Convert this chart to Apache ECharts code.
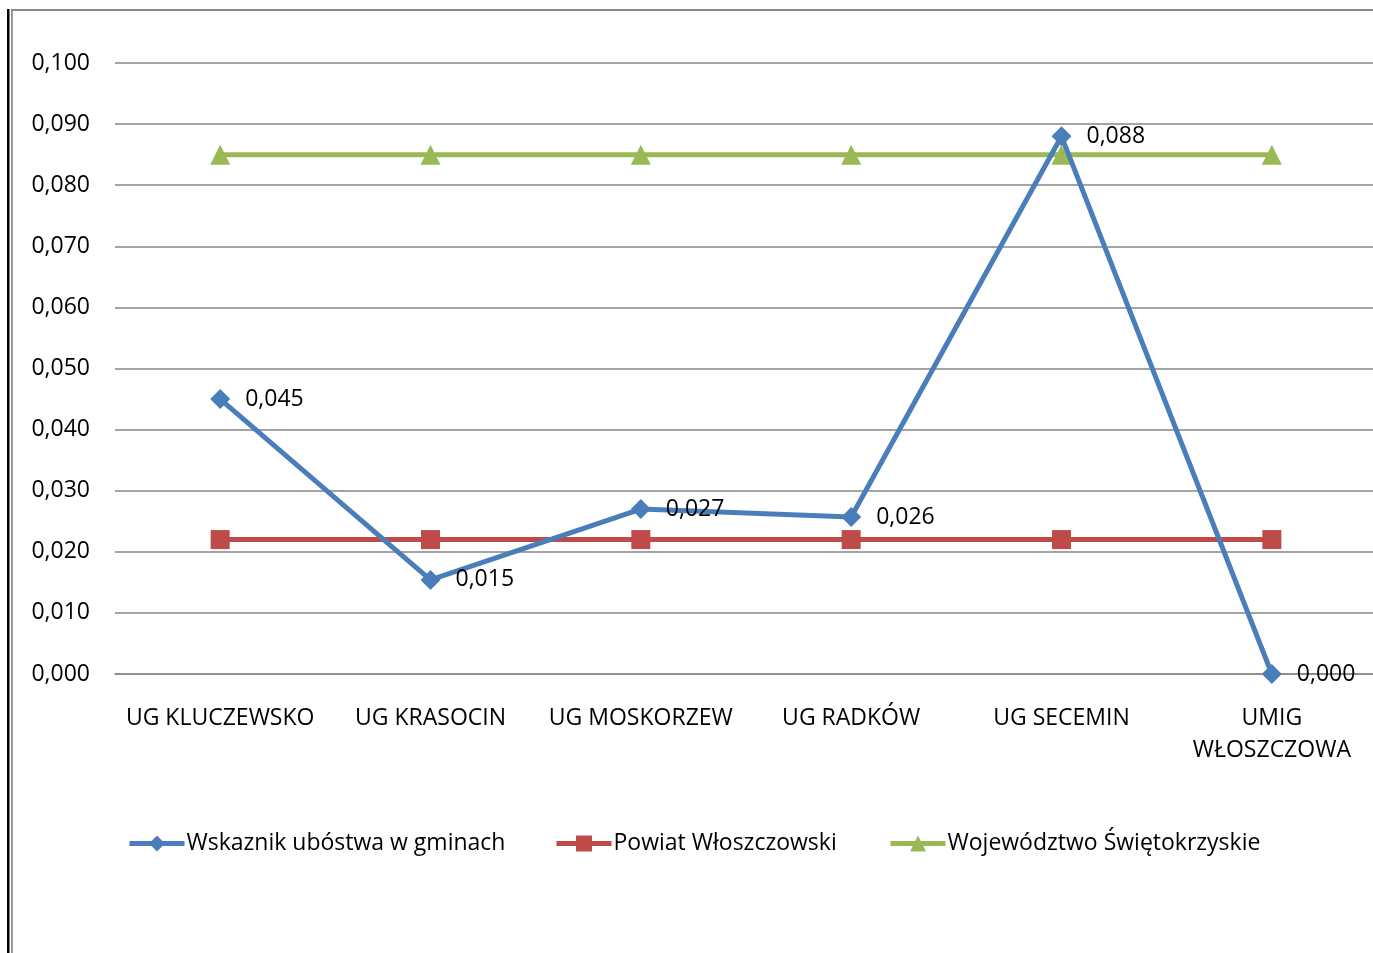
<!DOCTYPE html>
<html>
<head>
<meta charset="utf-8">
<script src="https://cdn.jsdelivr.net/npm/echarts@6/dist/echarts.min.js"></script>
<style>
  html, body { margin: 0; padding: 0; background: #fff; }
  #chart { width: 1373px; height: 953px; }
</style>
</head>
<body>
<div id="chart"></div>
<script>
// data
const categories = ['UG KLUCZEWSKO', 'UG KRASOCIN', 'UG MOSKORZEW', 'UG RADKÓW', 'UG SECEMIN', 'UMIG\nWŁOSZCZOWA'];
const gminy = [0.045, 0.0154, 0.027, 0.0257, 0.088, 0.000];
const powiat = [0.022, 0.022, 0.022, 0.022, 0.022, 0.022];
const wojewodztwo = [0.085, 0.085, 0.085, 0.085, 0.085, 0.085];
const seriesNames = ['Wskaznik ubóstwa w gminach', 'Powiat Włoszczowski', 'Województwo Świętokrzyskie'];

const FONT = '"Open Sans", sans-serif';
const fmt = (v) => v.toFixed(3).replace('.', ',');

const chart = echarts.init(document.getElementById('chart'));

const legendBase = {
  top: 827,
  itemWidth: 55,
  itemHeight: 20,
  itemGap: 0,
  lineStyle: { width: 5 },
  textStyle: { fontFamily: FONT, fontSize: 23, color: '#000', padding: [0, 0, 0, -3] },
};

chart.setOption({
  animation: false,
  textStyle: { fontFamily: FONT },
  graphic: [
    { type: 'rect', shape: { x: 7, y: 9, width: 2.5, height: 950 }, style: { fill: '#000' } },
    { type: 'rect', shape: { x: 11, y: 10, width: 2, height: 950 }, style: { fill: '#999' } },
    { type: 'rect', shape: { x: 11, y: 9, width: 1370, height: 2 }, style: { fill: '#8c8c8c' } },
  ],
  grid: { left: 115, top: 63, width: 1262, height: 611, containLabel: false, outerBoundsMode: 'none' },
  legend: [
    Object.assign({ left: 122, data: [seriesNames[0]] }, legendBase),
    Object.assign({ left: 549, data: [seriesNames[1]] }, legendBase),
    Object.assign({ left: 883, data: [seriesNames[2]] }, legendBase),
  ],
  xAxis: {
    type: 'category',
    data: categories,
    boundaryGap: true,
    axisLine: { lineStyle: { color: '#868686', width: 1.5 } },
    axisTick: { show: false },
    axisLabel: { fontFamily: FONT, fontSize: 23, color: '#000', margin: 28, lineHeight: 32, interval: 0 },
  },
  yAxis: {
    type: 'value',
    min: 0,
    max: 0.1,
    interval: 0.01,
    axisLine: { show: false },
    axisTick: { show: false },
    axisLabel: { fontFamily: FONT, fontSize: 23, color: '#000', margin: 25, formatter: fmt },
    splitLine: { lineStyle: { color: '#868686', width: 1.5 } },
  },
  series: [
    {
      name: seriesNames[0],
      type: 'line',
      data: gminy,
      symbol: 'diamond',
      symbolSize: 20,
      z: 5,
      lineStyle: { color: '#4a7ebb', width: 5 },
      itemStyle: { color: '#4a7ebb' },
      label: {
        show: true,
        position: 'right',
        distance: 15,
        fontFamily: FONT,
        fontSize: 23,
        color: '#000',
        formatter: (p) => fmt(p.value),
      },
    },
    {
      name: seriesNames[1],
      type: 'line',
      data: powiat,
      symbol: 'rect',
      symbolSize: 19,
      z: 3,
      lineStyle: { color: '#be4b48', width: 5 },
      itemStyle: { color: '#be4b48' },
    },
    {
      name: seriesNames[2],
      type: 'line',
      data: wojewodztwo,
      symbol: 'triangle',
      symbolSize: 20,
      z: 4,
      lineStyle: { color: '#98b954', width: 5 },
      itemStyle: { color: '#98b954' },
    },
  ],
});
</script>
</body>
</html>
